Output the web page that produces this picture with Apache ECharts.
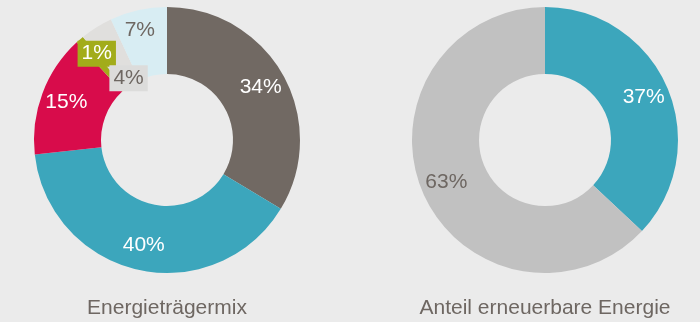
<!DOCTYPE html>
<html>
<head>
<meta charset="utf-8">
<script src="https://cdn.jsdelivr.net/npm/echarts@6/dist/echarts.min.js"></script>
<style>
  html, body { margin: 0; padding: 0; background: #ebebeb; }
  #chart { width: 700px; height: 322px; }
</style>
</head>
<body>
<div id="chart"></div>
<script>
// Energy carrier mix (percent shares)
const mixValues = [34, 40, 15, 1, 4, 7];
const mixColors = ['#716963', '#3ca6bc', '#d80c4b', '#a2ac1a', '#e0dfdd', '#d8edf3'];
const mixLabelColors = ['#ffffff', '#ffffff', '#ffffff', '#ffffff', '#6e6762', '#6e6762'];

// Renewable share (percent)
const renewValues = [37, 63];
const renewColors = ['#3ca6bc', '#c1c1c1'];
const renewLabelColors = ['#ffffff', '#6e6762'];

// Chart titles below each ring
const chartTitles = ['Energieträgermix', 'Anteil erneuerbare Energie'];

const FONT = '"Liberation Sans", Arial, sans-serif';
const TEXT = '#6e6762';
const centers = [[167, 140], [545, 140]];
const radius = [66, 133];

// Small slices get their own label box, shifted away from the crowded top
const mixLabelBoxes = {
  3: { backgroundColor: '#a2ac1a', padding: [3, 4, 2, 4] },
  4: { backgroundColor: '#dcdcdb', padding: [3, 4, 2, 4] }
};
const mixLabelNudge = { 3: [-3, -9], 4: [16, 25], 5: [-5, -10] };

function buildData(values, colors, labelColors, boxes) {
  return values.map((v, i) => ({
    value: v,
    itemStyle: { color: colors[i] },
    label: Object.assign({ color: labelColors[i] }, (boxes && boxes[i]) || {})
  }));
}

// Push labels a little outward from the ring middle, or apply a nudge
function layoutFor(center, nudges) {
  return function (params) {
    const n = nudges && nudges[params.dataIndex];
    if (n) return { dx: n[0], dy: n[1] };
    const r = params.labelRect;
    const cx = r.x + r.width / 2 - center[0];
    const cy = r.y + r.height / 2 - center[1];
    const len = Math.sqrt(cx * cx + cy * cy) || 1;
    return { dx: cx / len * 5, dy: cy / len * 5 };
  };
}

const labelBase = {
  show: true,
  position: 'inside',
  formatter: '{c}%',
  fontFamily: FONT,
  fontSize: 21,
  fontWeight: 'normal'
};

const chart = echarts.init(document.getElementById('chart'), null, { renderer: 'canvas' });
chart.setOption({
  backgroundColor: '#ebebeb',
  animation: false,
  series: [
    {
      type: 'pie',
      center: centers[0],
      radius: radius,
      startAngle: 90,
      clockwise: true,
      avoidLabelOverlap: false,
      label: labelBase,
      labelLine: { show: false },
      emphasis: { disabled: true },
      labelLayout: layoutFor(centers[0], mixLabelNudge),
      data: buildData(mixValues, mixColors, mixLabelColors, mixLabelBoxes)
    },
    {
      type: 'pie',
      center: centers[1],
      radius: radius,
      startAngle: 90,
      clockwise: true,
      avoidLabelOverlap: false,
      label: labelBase,
      labelLine: { show: false },
      emphasis: { disabled: true },
      labelLayout: layoutFor(centers[1], null),
      data: buildData(renewValues, renewColors, renewLabelColors, null)
    }
  ],
  graphic: chartTitles.map((t, i) => ({
    type: 'text',
    x: centers[i][0],
    y: 308,
    style: {
      text: t,
      fill: TEXT,
      font: '21px ' + FONT,
      textAlign: 'center',
      textVerticalAlign: 'middle'
    }
  }))
});
</script>
</body>
</html>
